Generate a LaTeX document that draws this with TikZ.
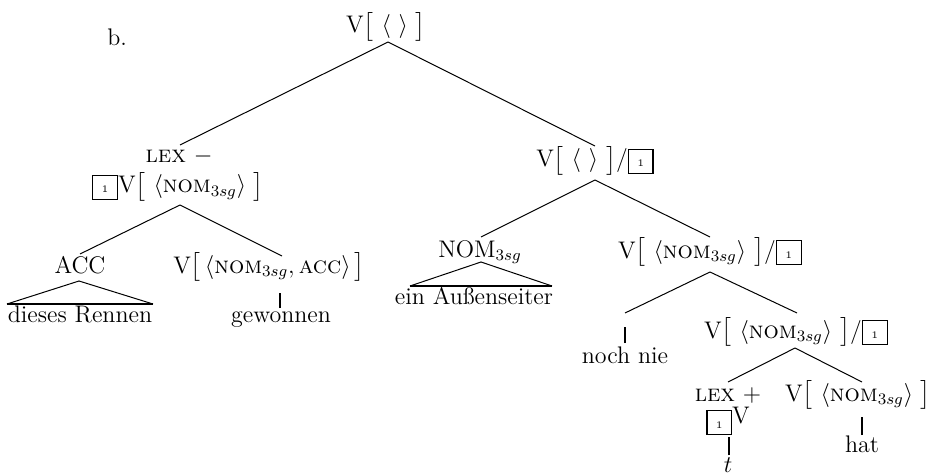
\documentclass[tikz,border=0pt]{standalone}
\usepackage{fontspec}
\usepackage{amsmath}
\usetikzlibrary{positioning}

% boxed tag, optional raise
\newcommand{\boxnum}[2][0pt]{\raisebox{#1}{\setlength{\fboxsep}{0pt}\setlength{\fboxrule}{0.65pt}\fbox{\rule[-2.8pt]{0pt}{11.2pt}\makebox[11.7pt]{\tiny #2}}}}
\newcommand{\vnom}{V$\bigl[\ \langle\text{\textsc{nom}}_{3sg}\rangle\ \bigr]$}

\begin{document}
\begin{tikzpicture}[x=0.5pt, y=-0.5pt, font=\large,
    lbl/.style={anchor=base, inner sep=1pt},
    branch/.style={line width=0.5pt},
    leafbar/.style={line width=1.2pt},
    roofbase/.style={line width=1pt}]
        \useasboundingbox (0,0) rectangle (929,475);

        % example number and root
        \node[anchor=base west, inner sep=0pt] (exnum) at (107,46) {b.};
        \node[lbl] (root) at (386,33) {V$\bigl[\ \langle\ \rangle\ \bigr]$};

        % level 1
        \node[below left=65pt and 103.5pt of root.base, lbl] (lexminus) {\textsc{lex} $-$};
        \node[below=15pt of lexminus.base, xshift=-0.5pt, lbl] (lexv) {\boxnum{1}\vnom};
        \node[below right=67pt and 104.5pt of root.base, lbl] (vmid) {V$\bigl[\ \langle\ \rangle\ \bigr]$/\boxnum{1}};

        % left subtree
        \node[below left=40pt and 49pt of lexv.base, lbl] (acc) {ACC};
        \node[below right=40pt and 45.5pt of lexv.base, lbl] (vacc) {V$\bigl[\,\langle\text{\textsc{nom}}_{3sg},\text{\textsc{acc}}\rangle\,\bigr]$};
        \node[below=24.5pt of acc.base, lbl] (rennen) {dieses Rennen};
        \node[below right=24.5pt and 6pt of vacc.base, lbl] (gewonnen) {gewonnen};

        % right subtree
        \node[below left=45pt and 57.5pt of vmid.base, lbl] (nom) {NOM$_{3sg}$};
        \node[below right=45.5pt and 57.5pt of vmid.base, lbl] (vsec) {\vnom/\boxnum{1}};
        \node[below left=23.5pt and 3pt of nom.base, lbl] (aussen) {ein Außenseiter};
        \node[below left=52.5pt and 42.5pt of vsec.base, lbl] (nochnie) {noch nie};
        \node[below right=40pt and 43pt of vsec.base, lbl] (vthird) {\vnom/\boxnum{1}};
        \node[below left=31.5pt and 34pt of vthird.base, lbl] (lexplus) {\textsc{lex} $+$};
        \node[below=11pt of lexplus.base, lbl] (boxv) {\boxnum[-2.5pt]{1}V};
        \node[below=24.5pt of boxv.base, lbl] (tleaf) {$t$};
        \node[below right=31.5pt and 31pt of vthird.base, lbl] (vhat) {\vnom};
        \node[below right=25.5pt and 2pt of vhat.base, lbl] (hat) {hat};

        % branches
        \draw[branch] ([xshift=1pt,yshift=-4.5pt]root.base) -- ([xshift=0.5pt,yshift=9pt]lexminus.base);
        \draw[branch] ([xshift=1pt,yshift=-4.5pt]root.base) -- ([yshift=10.5pt]vmid.base);
        \draw[branch] ([xshift=1pt,yshift=-6pt]lexv.base) -- ([yshift=9.5pt]acc.base);
        \draw[branch] ([xshift=1pt,yshift=-6pt]lexv.base) -- ([xshift=6.5pt,yshift=8.5pt]vacc.base);
        \draw[branch] ([yshift=-6.5pt]vmid.base) -- ([xshift=0.5pt,yshift=10pt]nom.base);
        \draw[branch] ([yshift=-6.5pt]vmid.base) -- ([yshift=10.5pt]vsec.base);
        \draw[branch] ([yshift=-7pt]vsec.base) -- ([yshift=25pt]nochnie.base);
        \draw[branch] ([yshift=-7pt]vsec.base) -- ([xshift=0.5pt,yshift=12.5pt]vthird.base);
        \draw[branch] ([xshift=-0.5pt,yshift=-5pt]vthird.base) -- ([yshift=9.5pt]lexplus.base);
        \draw[branch] ([xshift=-0.5pt,yshift=-5pt]vthird.base) -- ([xshift=2pt,yshift=9.5pt]vhat.base);

        % roofs
        \draw[branch] ([xshift=-36.5pt,yshift=9pt]rennen.base) -- ([xshift=-0.5pt,yshift=-4pt]acc.base) -- ([xshift=36.5pt,yshift=9pt]rennen.base);
        \draw[roofbase] ([xshift=-36.5pt,yshift=9pt]rennen.base) -- ([xshift=36.5pt,yshift=9pt]rennen.base);
        \draw[branch] ([xshift=-32pt,yshift=9pt]aussen.base) -- ([xshift=0.5pt,yshift=-2.5pt]nom.base) -- ([xshift=39pt,yshift=9pt]aussen.base);
        \draw[roofbase] ([xshift=-32pt,yshift=9pt]aussen.base) -- ([xshift=39pt,yshift=9pt]aussen.base);

        % leaf bars
        \draw[leafbar] ([xshift=-0.5pt,yshift=7pt]gewonnen.base) -- ([xshift=-0.5pt,yshift=14.5pt]gewonnen.base);
        \draw[leafbar] ([yshift=10pt]nochnie.base) -- ([yshift=18pt]nochnie.base);
        \draw[leafbar] ([xshift=0.5pt,yshift=8.5pt]tleaf.base) -- ([xshift=0.5pt,yshift=17.5pt]tleaf.base);
        \draw[leafbar] ([yshift=8.5pt]hat.base) -- ([yshift=17.5pt]hat.base);
\end{tikzpicture}
\end{document}
